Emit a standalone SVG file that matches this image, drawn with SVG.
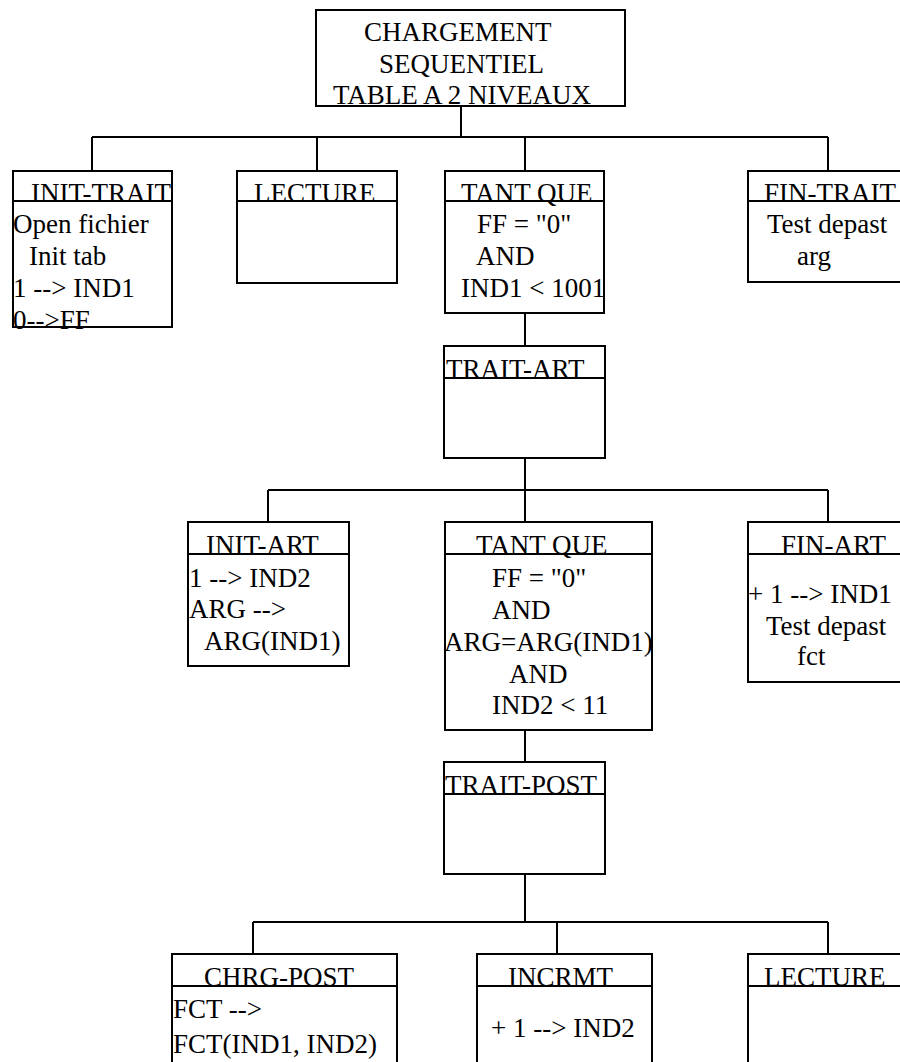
<svg xmlns="http://www.w3.org/2000/svg" width="900" height="1062" viewBox="0 0 900 1062">
<style>
.b{fill:#fff;stroke:#000;stroke-width:2}
.h{stroke:#000;stroke-width:2}
.c{fill:none;stroke:#000;stroke-width:2}
text{font-family:"Liberation Serif","Times New Roman",serif;font-size:27px;fill:#000}
</style>
<rect width="900" height="1062" fill="#fff"/>
<g id="connectors">
<path class="c" d="M461,106V137M92,137H828M92,137V171M317,137V171M525,137V171M828,137V171"/>
<path class="c" d="M525,313V346M525,458V522M268,490H828M268,490V522M828,490V522"/>
<path class="c" d="M525,730V762M525,874V922M253,922H828M253,922V954M557,922V954M828,922V954"/>
</g>
<g id="root">
<rect class="b" x="316" y="10" width="309" height="96"/>
<text x="364" y="41">CHARGEMENT</text>
<text x="379" y="73">SEQUENTIEL</text>
<text x="333" y="104">TABLE A 2 NIVEAUX</text>
</g>
<g id="init-trait">
<rect class="b" x="13" y="171" width="159" height="156"/>
<line class="h" x1="13" y1="201" x2="172" y2="201"/>
<text x="31" y="202">INIT-TRAIT</text>
<text x="13" y="233">Open fichier</text>
<text x="29" y="265">Init tab</text>
<text x="13" y="297">1 --&gt; IND1</text>
<text x="13" y="329">0--&gt;FF</text>
</g>
<g id="lecture1">
<rect class="b" x="237" y="171" width="160" height="112"/>
<line class="h" x1="237" y1="201" x2="397" y2="201"/>
<text x="254" y="202">LECTURE</text>
</g>
<g id="tantque1">
<rect class="b" x="445" y="171" width="159" height="142"/>
<line class="h" x1="445" y1="201" x2="604" y2="201"/>
<text x="461" y="202">TANT QUE</text>
<text x="477" y="233">FF = "0"</text>
<text x="476" y="265">AND</text>
<text x="461" y="297">IND1 &lt; 1001</text>
</g>
<g id="fin-trait">
<rect class="b" x="748" y="171" width="160" height="111"/>
<line class="h" x1="748" y1="201" x2="908" y2="201"/>
<text x="764" y="202">FIN-TRAIT</text>
<text x="767" y="233">Test depast</text>
<text x="797" y="265">arg</text>
</g>
<g id="trait-art">
<rect class="b" x="444" y="346" width="161" height="112"/>
<line class="h" x1="444" y1="378" x2="605" y2="378"/>
<text x="446" y="378">TRAIT-ART</text>
</g>
<g id="init-art">
<rect class="b" x="188" y="522" width="161" height="144"/>
<line class="h" x1="188" y1="554" x2="349" y2="554"/>
<text x="206" y="554">INIT-ART</text>
<text x="189" y="587">1 --&gt; IND2</text>
<text x="189" y="618">ARG --&gt;</text>
<text x="204" y="650">ARG(IND1)</text>
</g>
<g id="tantque2">
<rect class="b" x="445" y="522" width="207" height="208"/>
<line class="h" x1="445" y1="554" x2="652" y2="554"/>
<text x="476" y="554">TANT QUE</text>
<text x="492" y="587">FF = "0"</text>
<text x="492" y="619">AND</text>
<text x="444" y="651">ARG=ARG(IND1)</text>
<text x="509" y="683">AND</text>
<text x="492" y="714">IND2 &lt; 11</text>
</g>
<g id="fin-art">
<rect class="b" x="748" y="522" width="160" height="160"/>
<line class="h" x1="748" y1="554" x2="908" y2="554"/>
<text x="781" y="554">FIN-ART</text>
<text x="748" y="603">+ 1 --&gt; IND1</text>
<text x="766" y="635">Test depast</text>
<text x="797" y="665">fct</text>
</g>
<g id="trait-post">
<rect class="b" x="444" y="762" width="161" height="112"/>
<line class="h" x1="444" y1="794" x2="605" y2="794"/>
<text x="445" y="794">TRAIT-POST</text>
</g>
<g id="chrg-post">
<rect class="b" x="172" y="954" width="225" height="120"/>
<line class="h" x1="172" y1="986" x2="397" y2="986"/>
<text x="204" y="986">CHRG-POST</text>
<text x="173" y="1018">FCT --&gt;</text>
<text x="173" y="1053">FCT(IND1, IND2)</text>
</g>
<g id="incrmt">
<rect class="b" x="477" y="954" width="175" height="120"/>
<line class="h" x1="477" y1="986" x2="652" y2="986"/>
<text x="508" y="986">INCRMT</text>
<text x="491" y="1037">+ 1 --&gt; IND2</text>
</g>
<g id="lecture2">
<rect class="b" x="748" y="954" width="160" height="120"/>
<line class="h" x1="748" y1="986" x2="908" y2="986"/>
<text x="764" y="986">LECTURE</text>
</g>
</svg>
